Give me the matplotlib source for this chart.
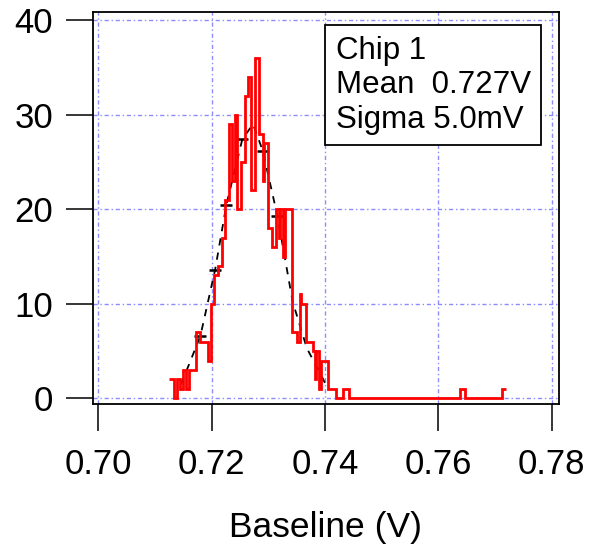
import numpy as np
import matplotlib
matplotlib.use("Agg")
import matplotlib.pyplot as plt

plt.rcParams['font.family'] = ['Liberation Sans', 'DejaVu Sans']

# red histogram: bin edges (V) and counts
red_edges = [0.7124, 0.7133, 0.7139, 0.7144, 0.7149, 0.7155, 0.7160, 0.7172, 0.7179, 0.7194,
             0.7198, 0.7204, 0.7211, 0.7218, 0.7223, 0.7230, 0.7236, 0.7241, 0.7244, 0.7252,
             0.7258, 0.7264, 0.7269, 0.7276, 0.7284, 0.7290, 0.7293, 0.7300, 0.7307, 0.7313,
             0.7318, 0.7321, 0.7326, 0.7329, 0.7341, 0.7350, 0.7355, 0.7358, 0.7366, 0.7379,
             0.7382, 0.7384, 0.7390, 0.7393, 0.7406, 0.7420, 0.7432, 0.7442, 0.7639, 0.7647,
             0.7712, 0.7719]
red_counts = [2, 0, 2, 1, 3, 1, 3, 7, 6, 4,
              10, 13, 14, 17, 21, 29, 23, 30, 20, 25,
              32, 34, 22, 36, 28, 23, 27, 18, 16, 20,
              17, 20, 15, 20, 7, 6, 11, 10, 6, 5,
              2, 5, 1, 4, 1, 0, 1, 0, 1, 0,
              1]

# black dashed curve
fit_x = [0.7146, 0.7180, 0.7206, 0.7226, 0.7254, 0.7273, 0.7290, 0.7316,
         0.7343, 0.7368, 0.7391, 0.7402]
fit_y = [1.5, 6.6, 13.6, 20.5, 27.4, 29.0, 26.2, 19.3, 10.2, 5.3, 2.7, 1.4]
mark_idx = [1, 2, 3, 4, 6, 7]

xticks = [0.70, 0.72, 0.74, 0.76, 0.78]
yticks = [0, 10, 20, 30, 40]
info = "Chip 1\nMean  0.727V\nSigma 5.0mV"

fig = plt.figure(figsize=(5.92, 5.52), dpi=100)
ax = fig.add_axes([0.157, 0.268, 0.787, 0.710])

grid_kw = dict(color='#8c8cff', lw=1.0, ls=(0, (3, 2, 1, 2)), zorder=0)
for xv in xticks:
    ax.axvline(xv, **grid_kw)
for yv in yticks:
    ax.axhline(yv, **grid_kw)

ax.plot(fit_x, fit_y, color='black', lw=1.3, ls=(0, (4, 4)), zorder=2)
ax.plot([fit_x[i] for i in mark_idx], [fit_y[i] for i in mark_idx], ls='none',
        marker='_', ms=8, mew=1.8, color='black', zorder=2)
ax.stairs(red_counts, red_edges, baseline=None, color='red', lw=2.0, zorder=3)

ax.set_xlim(0.69903, 0.78129)
ax.set_ylim(-0.6, 40.84)
ax.set_xticks(xticks)
ax.set_xticklabels([f'{v:.2f}' for v in xticks])
ax.set_yticks(yticks)
ax.tick_params(direction='out', length=19.5, width=1.1, labelsize=25)
ax.tick_params(axis='x', pad=12)
ax.tick_params(axis='y', pad=9)
for s in ax.spines.values():
    s.set_linewidth(1.3)

ax.set_xlabel('Baseline (V)', fontsize=25.5, labelpad=22)

ax.text(0.521, 0.940, info, transform=ax.transAxes, ha='left', va='top',
        fontsize=22.5, linespacing=1.2,
        bbox=dict(boxstyle='square,pad=0.33', fc='white', ec='black', lw=1.3),
        zorder=5)

fig.savefig('out.png', dpi=100)
